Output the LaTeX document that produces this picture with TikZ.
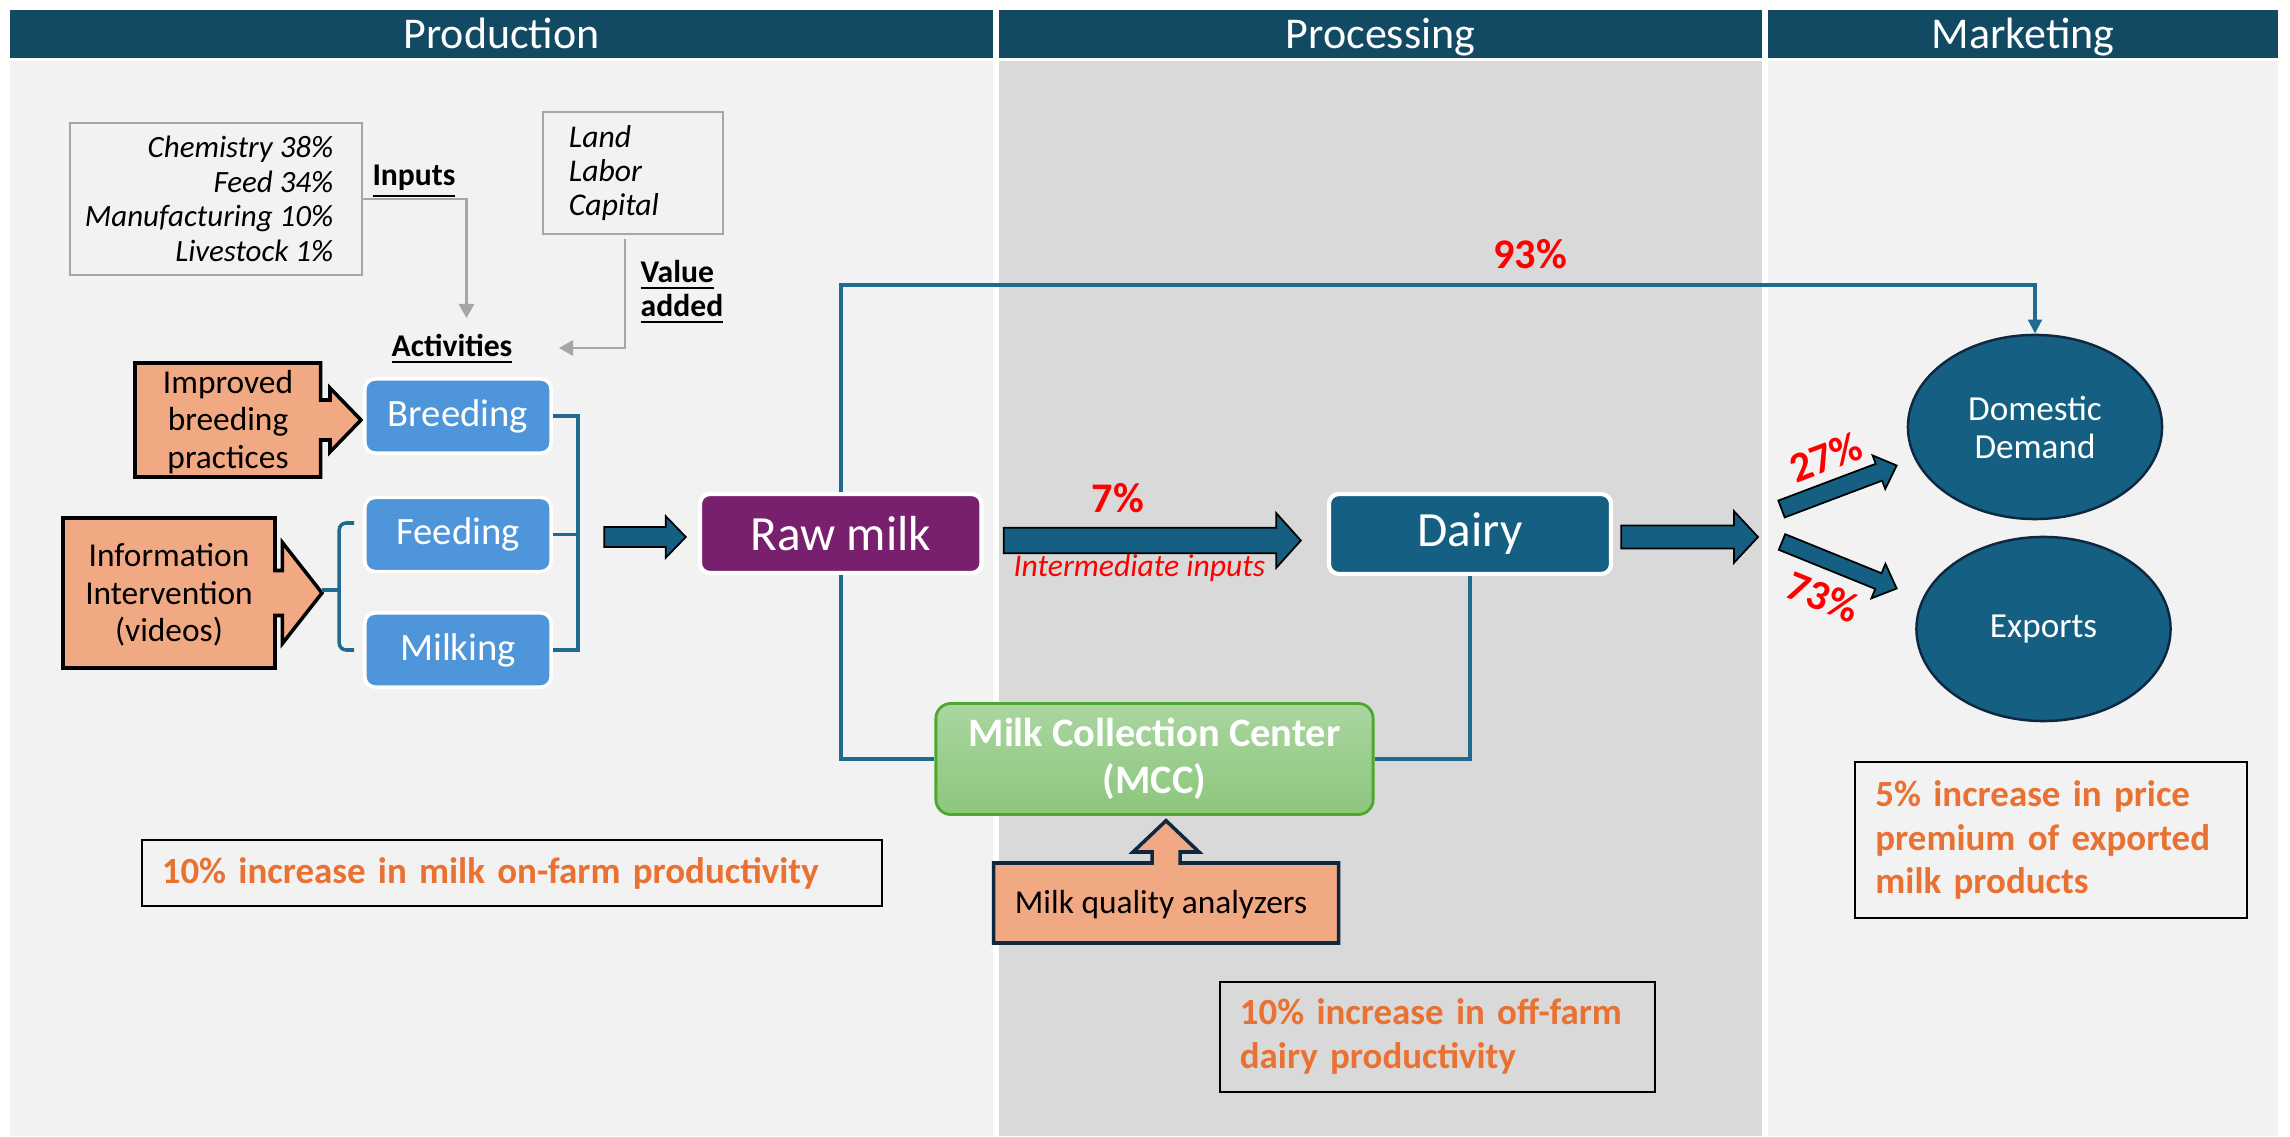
\documentclass[tikz,border=0pt]{standalone}
\usepackage{fontspec}
\setmainfont{Carlito}
\usetikzlibrary{arrows.meta,calc,shapes.geometric}

\definecolor{hdrc}{HTML}{124A63}
\definecolor{lgray}{HTML}{F2F2F2}
\definecolor{dgray}{HTML}{D9D9D9}
\definecolor{tealf}{HTML}{156082}
\definecolor{linec}{HTML}{1F6A8D}
\definecolor{purp}{HTML}{78206E}
\definecolor{actblue}{HTML}{4E95D9}
\definecolor{salmon}{HTML}{F1A983}
\definecolor{orng}{HTML}{E97132}
\definecolor{navyc}{HTML}{0E2841}
\definecolor{grn}{HTML}{4EA72E}
\definecolor{grntop}{HTML}{AAD6A0}
\definecolor{grnbot}{HTML}{8CC67C}
\definecolor{boxgray}{HTML}{A6A6A6}
\definecolor{redc}{HTML}{FF0000}

\newcommand\fsz[2]{\fontsize{#1pt}{#2pt}\selectfont}

% block arrow from #1 to #2: shaft half width #3, head half width #4, head length #5
\newcommand\blkarrow[5]{%
  \draw[blockarrow] let \p1=(#1), \p2=(#2),
      \n1={atan2(\y2-\y1,\x2-\x1)}, \n2={veclen(\x2-\x1,\y2-\y1)} in
    [shift={(\p1)}, rotate=\n1]
    (0pt,-#3) -- ({\n2*1pt-#5},-#3) -- ({\n2*1pt-#5},-#4) -- ({\n2*1pt},0pt)
    -- ({\n2*1pt-#5},#4) -- ({\n2*1pt-#5},#3) -- (0pt,#3) -- cycle;}

\begin{document}
\begin{tikzpicture}[x=0.01cm,y=-0.01cm,
  hdr/.style={fill=hdrc, text=white, minimum height=0.48cm, inner sep=0pt,
    font=\fsz{12.5}{15}, text height=8pt, text depth=0pt},
  inbox/.style={draw=boxgray, line width=0.45pt, inner sep=0pt, font=\fsz{8.8}{9.8}\itshape},
  lbl/.style={inner sep=0pt, font=\bfseries\fsz{9}{11}},
  grayarr/.style={draw=boxgray, line width=0.6pt, -{Triangle[length=4pt,width=4.4pt]}},
  callout/.style={fill=salmon, draw=black, line width=1pt, line join=miter},
  callouttext/.style={inner sep=0pt, align=center, font=\fsz{9.5}{10.7}},
  act/.style={rounded corners=0.1cm, fill=actblue, draw=white, line width=1pt,
    minimum width=1.86cm, minimum height=0.74cm, text=white, font=\fsz{11}{13}},
  proc/.style={rounded corners=0.1cm, draw=white, line width=1.2pt,
    minimum width=2.82cm, minimum height=0.80cm, text=white, font=\fsz{14}{16}},
  conn/.style={draw=linec, line width=1pt},
  blockarrow/.style={fill=tealf, draw=black, line width=0.5pt, line join=miter},
  mccbox/.style={rounded corners=0.15cm, draw=grn, line width=0.8pt, top color=grntop,
    bottom color=grnbot, minimum width=4.37cm, minimum height=1.11cm, text=white,
    font=\bfseries\fsz{11.5}{13.2}, align=center},
  mkt/.style={ellipse, fill=tealf, draw=navyc, line width=0.7pt, minimum width=2.54cm,
    minimum height=1.84cm, inner sep=0pt, text=white, font=\fsz{10}{10.8}, align=center},
  pct/.style={text=redc, inner sep=0pt, font=\bfseries\fsz{12}{14}},
  res/.style={draw=black, line width=0.6pt, align=left, inner sep=0pt, text=orng,
    font=\bfseries\fsz{10.5}{12.4}}
]
\useasboundingbox (0,0) rectangle (2290,1137);
\fill[white] (0,0) rectangle (2290,1137);

% column backgrounds
\fill[lgray] (10,61) rectangle (993,1136);
\fill[dgray] (999,61) rectangle (1762,1136);
\fill[lgray] (1768,61) rectangle (2278,1136);

% column headers
\node[hdr, minimum width=9.83cm] (hprod) at (501.5,34) {Production};
\node[hdr, minimum width=7.63cm] (hproc) at (1380.5,34) {Processing};
\node[hdr, minimum width=5.10cm] (hmark) at (2023,34) {Marketing};

% inputs and value added
\node[inbox, minimum width=2.92cm, minimum height=1.52cm] (inputs) at (216,199) {};
\node[inner sep=0pt, anchor=east, align=right, font=\fsz{8.8}{9.8}\itshape]
  (inlist) at (334,199) {Chemistry 38\%\\Feed 34\%\\Manufacturing 10\%\\Livestock 1\%};
\node[inbox, font=\fsz{9}{9.7}\itshape, minimum width=1.80cm, minimum height=1.22cm,
  text width=1.28cm, align=left] (factors) at (633,173) {Land\\Labor\\Capital};

\node[lbl, anchor=base] (inlbl) at (414,186) {\underline{Inputs}};
\node[lbl, anchor=base] (actlbl) at (452,357) {\underline{Activities}};
\node[lbl, anchor=base west] (val1) at (640,283) {\underline{Value}};
\node[lbl, anchor=base west] (val2) at (640,317) {\underline{added}};

\coordinate (inend) at (466.5,318);
\coordinate (valend) at (559,348);
\draw[grayarr] (inputs.east) -| (inend);
\draw[grayarr] ($(factors.south)+(-8,4)$) |- (valend);

% interventions (callouts)
\filldraw[callout] (135,363) -- (320.6,363) -- (320.6,400) -- (330,400) -- (330,388)
  -- (361,420) -- (330,452) -- (330,440) -- (320.6,440) -- (320.6,477) -- (135,477) -- cycle;
\node[callouttext] (impr) at (228,422) {Improved\\breeding\\practices};

\filldraw[callout] (63,518) -- (275,518) -- (275,570.5) -- (282.4,570.5) -- (282.4,542.5)
  -- (322,593) -- (282.4,643.5) -- (282.4,615.5) -- (275,615.5) -- (275,668) -- (63,668) -- cycle;
\node[callouttext] (info) at (169,595) {Information\\Intervention\\(videos)};
\coordinate (infotip) at (322,590);

% activities
\node[act] (breed) at (458,416) {Breeding};
\node[act] (feed) at (458,534.5) {Feeding};
\node[act] (milkg) at (458,650) {Milking};

\draw[conn] (breed.east) -- ++(25,0) |- (milkg.east);
\draw[conn] (feed.east) -- ++(25,0);
\draw[conn, rounded corners=2pt] ($(feed.west)+(-9,-11.5)$) -| ($(milkg.west)+(-24,0)$)
  -- ($(milkg.west)+(-9,0)$);
\draw[conn] (infotip) -- ($(milkg.west)+(-24,-60)$);

% main chain
\node[proc, fill=purp, minimum width=2.815cm, minimum height=0.79cm] (raw) at (840.75,533.5) {Raw milk};
\node[proc, fill=tealf] (dairy) at (1470,534) {Dairy};
\node[mccbox] (mcc) at (1154.5,759) {Milk Collection Center\\(MCC)};

\node[mkt] (dom) at (2035,427) {Domestic\\Demand};
\node[mkt] (exp) at (2043.5,629) {Exports};

\coordinate (split) at (1758,537);

\blkarrow{$(feed.east)+(51.5,2.5)$}{$(raw.west)+(-12,3.5)$}{2.85pt}{5.9pt}{5.7pt}
\blkarrow{$(raw.east)+(20,7)$}{$(dairy.west)+(-26,6.5)$}{3.64pt}{7.8pt}{7pt}
\blkarrow{$(dairy.east)+(8,3)$}{split}{3.3pt}{7.3pt}{6.8pt}
\blkarrow{$(split)+(23.5,-28)$}{$(dom.west)+(-10,38.5)$}{2.56pt}{5.1pt}{5.4pt}
\blkarrow{$(split)+(24,5)$}{$(exp.west)+(-18.5,-40.5)$}{2.4pt}{5.3pt}{5.6pt}

\draw[conn] (raw.south) |- (mcc.west);
\draw[conn] (dairy.south) |- (mcc.east);
\draw[conn, -{Triangle[length=4pt,width=3.8pt]}] (raw.north) -- ++(0,-207) -| (dom.north);

% milk quality analyzers callout
\filldraw[callout, draw=navyc] (993.5,943) -- (993.5,863) -- (1152,863) -- (1152,852)
  -- (1133,852) -- (1166,820.7) -- (1199,852) -- (1180,852) -- (1180,863)
  -- (1338.7,863) -- (1338.7,943) -- cycle;
\node[callouttext] (mqa) at (1161,905) {Milk quality analyzers};

% shares
\node[pct, anchor=base] (p93) at (1530,269) {93\%};
\node[pct, anchor=base] (p7) at (1118,513) {7\%};
\node[inner sep=0pt, anchor=base, text=redc, font=\fsz{9}{11}\itshape] (interm) at (1139.5,577) {Intermediate inputs};
\node[pct, rotate=20.5] (p27) at (1826,457) {27\%};
\node[pct, rotate=-22] (p73) at (1823,597) {73\%};

% results
\node[res, minimum width=7.40cm, minimum height=0.66cm, text width=7.0cm] (r1) at (512,873)
  {10\% increase in milk on-farm productivity};
\node[res, minimum width=4.345cm, minimum height=1.10cm, text width=3.955cm] (r2) at (1437.75,1036.7)
  {10\% increase in off-farm\\dairy productivity};
\node[res, minimum width=3.92cm, minimum height=1.56cm, text width=3.51cm] (r3) at (2051,840)
  {5\% increase in price\\premium of exported\\milk products};
\end{tikzpicture}
\end{document}
